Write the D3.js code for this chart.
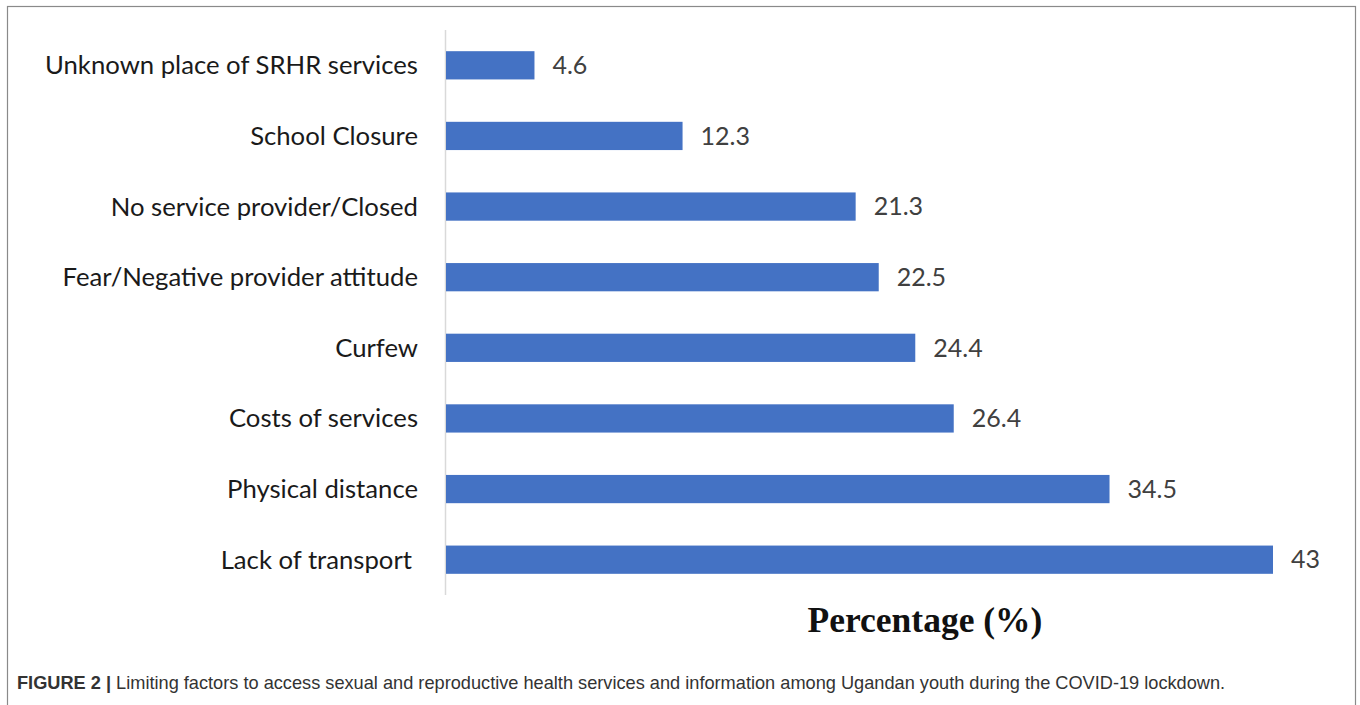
<!DOCTYPE html>
<html>
<head>
<meta charset="utf-8">
<script src="https://cdn.jsdelivr.net/npm/d3@7"></script>
<style>
	body { margin: 0; background: #fff; }
	svg { display: block; }
</style>
</head>
<body>
<svg id="chart"></svg>
<script>
// data
const categories = [
	"Unknown place of SRHR services",
	"School Closure",
	"No service provider/Closed",
	"Fear/Negative provider attitude",
	"Curfew",
	"Costs of services",
	"Physical distance",
	"Lack of transport"
];
const values = [4.6, 12.3, 21.3, 22.5, 24.4, 26.4, 34.5, 43];
const valueLabels = ["4.6", "12.3", "21.3", "22.5", "24.4", "26.4", "34.5", "43"];
const axisTitle = "Percentage (%)";
const captionBold = "FIGURE 2 |";
const captionText = " Limiting factors to access sexual and reproductive health services and information among Ugandan youth during the COVID-19 lockdown.";

const size = { w: 1360, h: 705 };

let svg = d3.select("#chart").attr("width", size.w).attr("height", size.h);

// figure frame
svg.append("rect")
	.attr("x", 7.5)
	.attr("y", 6.5)
	.attr("width", 1348)
	.attr("height", 720)
	.attr("fill", "none")
	.attr("stroke", "#8a8a8a")
	.attr("stroke-width", 1.2);

let xScale = d3.scaleLinear().domain([0, 43]).range([446, 1273]);

let yScale = d3.scaleBand()
	.domain(categories)
	.range([30, 595])
	.paddingInner(0.6)
	.paddingOuter(0.3);

let data = categories.map((c, i) => ({ cat: c, v: values[i], label: valueLabels[i] }));

// vertical axis line
svg.append("line")
	.attr("x1", 445.5)
	.attr("x2", 445.5)
	.attr("y1", 30)
	.attr("y2", 595)
	.attr("stroke", "#d9d9d9")
	.attr("stroke-width", 1.5);

svg.append("g")
	.selectAll("rect")
	.data(data)
	.join("rect")
	.attr("x", xScale(0))
	.attr("y", (d) => yScale(d.cat))
	.attr("width", (d) => xScale(d.v) - xScale(0))
	.attr("height", yScale.bandwidth())
	.attr("fill", "#4472c4");

svg.append("g")
	.selectAll("text")
	.data(data)
	.join("text")
	.attr("x", (d) => xScale(d.v) + 18)
	.attr("y", (d) => yScale(d.cat) + yScale.bandwidth() / 2)
	.attr("dy", "0.35em")
	.attr("font-family", "Lato, 'Open Sans', sans-serif")
	.attr("font-size", 25)
	.attr("fill", "#404040")
	.text((d) => d.label);

svg.append("g")
	.selectAll("text")
	.data(data)
	.join("text")
	.attr("x", (d) => (d.cat === "Lack of transport" ? 412 : 418))
	.attr("y", (d) => yScale(d.cat) + yScale.bandwidth() / 2)
	.attr("dy", "0.35em")
	.attr("text-anchor", "end")
	.attr("font-family", "Lato, 'Open Sans', sans-serif")
	.attr("font-size", 25.7)
	.attr("fill", "#1a1a1a")
	.text((d) => d.cat);

svg.append("text")
	.attr("x", 925)
	.attr("y", 632)
	.attr("text-anchor", "middle")
	.attr("font-family", "'Liberation Serif', 'Times New Roman', serif")
	.attr("font-weight", "bold")
	.attr("font-size", 35.5)
	.attr("fill", "#111")
	.text(axisTitle);

let cap = svg.append("text")
	.attr("x", 17)
	.attr("y", 689)
	.attr("font-family", "'Liberation Sans', Arial, sans-serif")
	.attr("font-size", 18.2)
	.attr("fill", "#333");
cap.append("tspan").attr("font-weight", "bold").text(captionBold);
cap.append("tspan").text(captionText);
</script>
</body>
</html>
